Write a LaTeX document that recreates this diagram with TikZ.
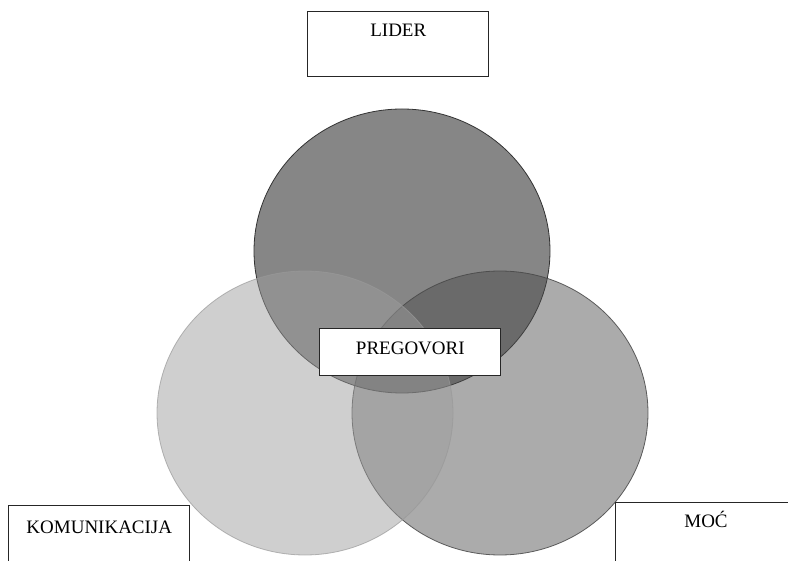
\documentclass[tikz,border=0pt]{standalone}
\usepackage{fontspec}
\setmainfont{Liberation Serif}
\definecolor{topfill}{RGB}{134,134,134}
\definecolor{rightfill}{RGB}{76,76,76}
\definecolor{leftfill}{RGB}{157,157,157}
\begin{document}
\begin{tikzpicture}[x=1pt,y=-1pt,
  labelbox/.style={draw=black!85, line width=1pt, fill=white,
    minimum width=181pt, inner xsep=0pt, inner ysep=4pt,
    anchor=north west, font=\fontsize{19}{22}\selectfont},
  venn/.style={line width=0.8pt}]
\useasboundingbox (0,0) rectangle (788,561);
\clip (0,0) rectangle (788,561);

% three overlapping discs, top one first, the others translucent over it
\filldraw[venn, fill=topfill, draw=black!80]
  (402,251) ellipse [x radius=148pt, y radius=142pt];
\filldraw[venn, fill=rightfill, fill opacity=0.47, draw=black!72, draw opacity=0.85]
  (500,413) ellipse [x radius=148pt, y radius=142pt];
\filldraw[venn, fill=leftfill, fill opacity=0.49, draw=black!40, draw opacity=0.7]
  (305,413) ellipse [x radius=148pt, y radius=142pt];

% labels
\node[labelbox, text height=21.5pt, text depth=35.5pt] (lider) at (307.3,10.7) {LIDER};
\node[labelbox, text height=21.3pt, text depth=17.7pt] (pregovori) at (319.3,328.3) {PREGOVORI};
\node[labelbox, text height=23.7pt, text depth=33.3pt] (komunikacija) at (8.3,505) {KOMUNIKACIJA};
\node[labelbox, text height=21pt, text depth=36pt] (moc) at (615,501.7) {MOĆ};
\end{tikzpicture}
\end{document}
